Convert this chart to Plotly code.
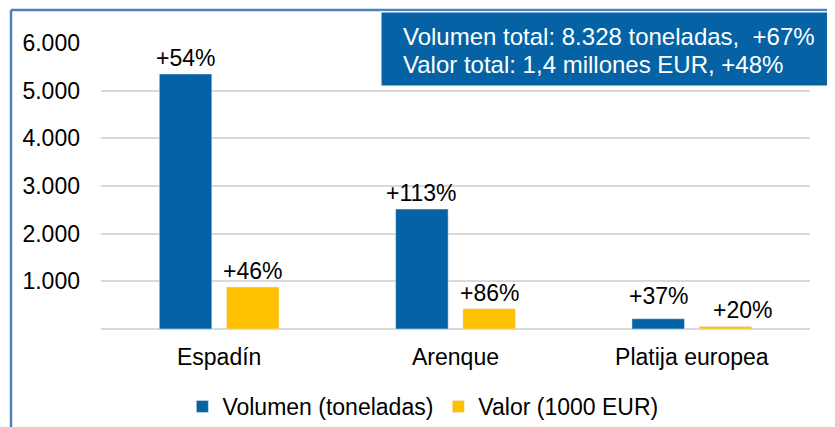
import plotly.graph_objects as go

especies = ['Espadín', 'Arenque', 'Platija europea']
volumen = [5350, 2515, 215]
valor = [880, 425, 50]
volumen_pct = ['+54%', '+113%', '+37%']
valor_pct = ['+46%', '+86%', '+20%']
y_ticks = [1000, 2000, 3000, 4000, 5000, 6000]
y_tick_labels = ['1.000', '2.000', '3.000', '4.000', '5.000', '6.000']
resumen = ['Volumen total: 8.328 toneladas,  +67%',
           'Valor total: 1,4 millones EUR, +48%']

W, H = 835, 427
OFF = 8  # margen del body de la página
L, R, T, B = 101 - OFF, 25 + OFF, 43 - OFF, 98 + OFF
FONT = 'Liberation Sans, Arial, sans-serif'
AZUL = '#0563A5'
AMARILLO = '#FFC000'
SLOT = 33.6  # media anchura de grupo en px (desplazamiento de etiquetas)
# ajustes manuales de etiquetas (px): (xshift, yshift)
ajuste_vol = [(0, 1), (0, 1), (0, 8)]
ajuste_val = [(0, 1), (0, 1), (17, 2)]


def px(x):
    return (x - OFF - L) / (W - L - R)


def py(y):
    return (H - B - (y - OFF)) / (H - T - B)


fig = go.Figure()
fig.add_trace(go.Bar(x=especies, y=volumen, name='Volumen (toneladas)', marker_color=AZUL))
fig.add_trace(go.Bar(x=especies, y=valor, name='Valor (1000 EUR)', marker_color=AMARILLO))

# etiquetas de variación
for serie, textos, lado, ajustes in [(volumen, volumen_pct, -1, ajuste_vol),
                                     (valor, valor_pct, 1, ajuste_val)]:
    for cat, v, t, (dx, dy) in zip(especies, serie, textos, ajustes):
        fig.add_annotation(x=cat, y=v, text=t, showarrow=False,
                           xanchor='center', yanchor='bottom',
                           xshift=lado * SLOT + dx, yshift=dy,
                           font=dict(size=23, color='#000000', family=FONT))

# marco azul (izquierda y arriba)
fig.add_shape(type='line', xref='paper', yref='paper',
              x0=px(11), x1=px(W + 5), y0=py(10), y1=py(10),
              line=dict(color='#4F81BD', width=2.5))
fig.add_shape(type='line', xref='paper', yref='paper',
              x0=px(11), x1=px(11), y0=py(10), y1=py(H + 5),
              line=dict(color='#4F81BD', width=2.5))
# caja con totales
fig.add_shape(type='rect', xref='paper', yref='paper',
              x0=px(381), x1=px(W + 5), y0=py(86), y1=py(12),
              fillcolor=AZUL, line=dict(color='white', width=1), layer='above')
for i, linea in enumerate(resumen):
    fig.add_annotation(text=linea, xref='paper', yref='paper',
                       x=px(401), y=py(36 + 29 * i), xanchor='left', yanchor='middle',
                       showarrow=False, font=dict(size=24, color='white', family=FONT))

fig.update_layout(
    width=W, height=H,
    margin=dict(l=L, r=R, t=T, b=B, autoexpand=False),
    paper_bgcolor='white', plot_bgcolor='white',
    font=dict(family=FONT, size=23, color='#000000'),
    barmode='group', bargap=0.431, bargroupgap=0.219,
    showlegend=True,
    legend=dict(orientation='h', x=0.454, xanchor='center', y=py(385), yanchor='top',
                font=dict(size=23), itemwidth=30),
    xaxis=dict(showgrid=False, showline=False, ticks='', ticklabelstandoff=12),
    yaxis=dict(range=[0, 6000], tickvals=y_ticks, ticktext=y_tick_labels,
               showgrid=True, gridcolor='#D9D9D9', gridwidth=2,
               zeroline=True, zerolinecolor='#D9D9D9', zerolinewidth=2,
               showline=False, ticks='', ticklabelstandoff=20),
)

fig.write_html('out.html')
